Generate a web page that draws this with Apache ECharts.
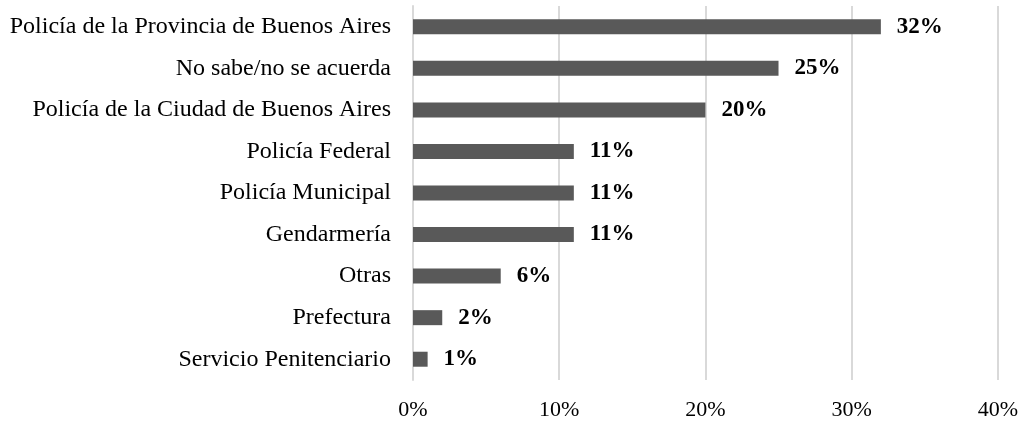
<!DOCTYPE html>
<html>
<head>
<meta charset="utf-8">
<script src="https://cdn.jsdelivr.net/npm/echarts@6/dist/echarts.min.js"></script>
<style>
    html, body { margin: 0; padding: 0; background: #fff; }
    #chart { width: 1021px; height: 421px; }
</style>
</head>
<body>
<div id="chart"></div>
<script>
// categories from bottom to top (ECharts category y-axis draws first item at bottom)
const categories = [
    'Servicio Penitenciario',
    'Prefectura',
    'Otras',
    'Gendarmería',
    'Policía Municipal',
    'Policía Federal',
    'Policía de la Ciudad de Buenos Aires',
    'No sabe/no se acuerda',
    'Policía de la Provincia de Buenos Aires'
];
const values = [1, 2, 6, 11, 11, 11, 20, 25, 32];
const xTicks = [0, 10, 20, 30, 40];

const font = '"Liberation Serif", "Times New Roman", serif';

let chart = echarts.init(document.getElementById('chart'));
chart.setOption({
    animation: false,
    grid: { left: 413, right: 21, top: 6, bottom: 40 },
    xAxis: {
        type: 'value',
        min: xTicks[0],
        max: xTicks[xTicks.length - 1],
        interval: 10,
        axisLine: { show: false },
        axisTick: { show: false },
        splitLine: { lineStyle: { color: '#d9d9d9', width: 2 } },
        axisLabel: {
            formatter: '{value}%',
            fontFamily: font,
            fontSize: 22,
            color: '#000',
            margin: 19
        }
    },
    yAxis: {
        type: 'category',
        data: categories,
        axisLine: { show: true, lineStyle: { color: '#d9d9d9', width: 2 } },
        axisTick: { show: false },
        axisLabel: {
            fontFamily: font,
            fontSize: 24,
            color: '#000',
            margin: 22
        }
    },
    series: [{
        type: 'bar',
        data: values,
        barWidth: 15,
        itemStyle: { color: '#595959' },
        label: {
            show: true,
            position: 'right',
            distance: 16,
            formatter: '{c}%',
            fontFamily: font,
            fontSize: 23,
            fontWeight: 'bold',
            color: '#000'
        }
    }]
});
</script>
</body>
</html>
